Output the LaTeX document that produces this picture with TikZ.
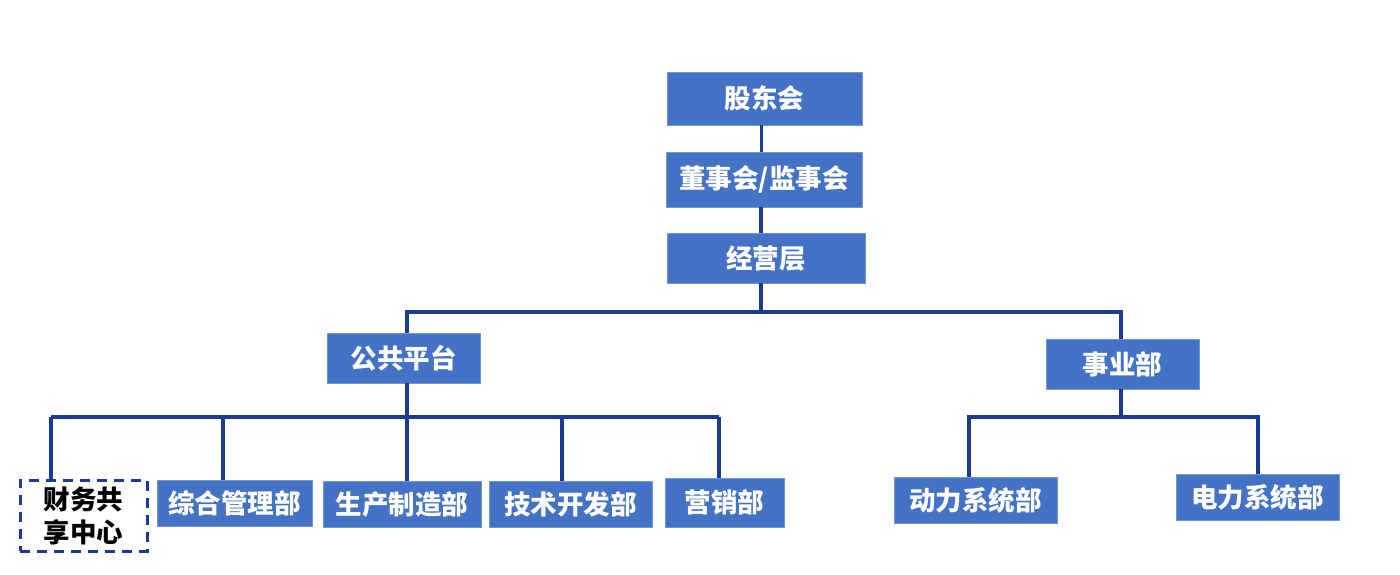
\documentclass[tikz,border=0pt]{standalone}
\usepackage{fontspec}
\newfontfamily\cjk{Noto Sans CJK SC}
\usepackage{tikz}
\usetikzlibrary{positioning}

\definecolor{boxblue}{HTML}{4472C4}
\definecolor{boxedge}{HTML}{7396D8}
\definecolor{linkblue}{HTML}{1B3A94}

\tikzset{
	unit/.style={rectangle, fill=boxblue, draw=boxedge, line width=0.8pt, text=white,
		font=\cjk\bfseries\fontsize{26.5}{30}\selectfont, inner sep=0pt},
	dashunit/.style={rectangle, draw=linkblue, dashed, dash pattern=on 10pt off 7pt, line width=3pt,
		text=black, align=center, font=\cjk\bfseries\fontsize{26.5}{33}\selectfont, inner sep=0pt},
	link/.style={draw=linkblue, line width=3.2pt}
}

\begin{document}
\begin{tikzpicture}[x=1pt, y=-1pt]
	\useasboundingbox (0,0) rectangle (1400,574);
	% top levels
	\node[unit, minimum width=195pt, minimum height=53pt] (gdh) at (764.5, 98.5) {股东会};
	\node[unit, minimum width=196pt, minimum height=55pt] (dsh) at (764, 179.5) {董事会/监事会};
	\node[unit, minimum width=198pt, minimum height=50pt] (jyc) at (766, 258) {经营层};
	\node[unit, minimum width=153pt, minimum height=50pt] (ggpt) at (403.5, 358) {公共平台};
	\node[unit, minimum width=153pt, minimum height=50pt] (syb) at (1122.5, 364) {事业部};
	% departments
	\node[dashunit, minimum width=127pt, minimum height=71pt] (cw) at (83.5, 515.5) {财务共\\享中心};
	\node[unit, minimum width=155pt, minimum height=46pt] (zh) at (234.5, 503) {综合管理部};
	\node[unit, minimum width=158pt, minimum height=46pt] (sc) at (402, 504) {生产制造部};
	\node[unit, minimum width=163pt, minimum height=46pt] (js) at (570.5, 504) {技术开发部};
	\node[unit, minimum width=119pt, minimum height=49pt] (yx) at (724.5, 502.5) {营销部};
	\node[unit, minimum width=163pt, minimum height=46pt] (dl) at (975.5, 500) {动力系统部};
	\node[unit, minimum width=163pt, minimum height=46pt] (dlx) at (1257.5, 497) {电力系统部};
	% bus levels
	\coordinate (topbus) at (0, 312);
	\coordinate (pubbus) at (0, 417);
	\coordinate (bizbus) at (0, 417);
	% links
	\draw[link] ([xshift=-3pt]gdh.south) -- ([xshift=-3pt]gdh.south |- dsh.north);
	\draw[link] ([xshift=-3pt]dsh.south) -- ([xshift=-3pt]dsh.south |- jyc.north);
	\draw[link] ([xshift=-5pt]jyc.south) -- ([xshift=-5pt]jyc.south |- topbus);
	\draw[link] ([xshift=3.5pt]ggpt.north) -- ([xshift=3.5pt]ggpt.north |- topbus)
		-- ([xshift=-1.5pt]syb.north |- topbus) -- ([xshift=-1.5pt]syb.north);
	\draw[link] ([xshift=3.5pt]ggpt.south) -- ([xshift=3.5pt]ggpt.south |- pubbus);
	\draw[link] ([xshift=-32.5pt]cw.north |- pubbus) -- ([xshift=-5.5pt]yx.north |- pubbus);
	\foreach \n/\dx in {cw/-32.5, zh/-11.5, sc/5, js/-8.5, yx/-5.5}
		\draw[link] ([xshift=\dx pt]\n.north) -- ([xshift=\dx pt]\n.north |- pubbus);
	\draw[link] ([xshift=-1.5pt]syb.south) -- ([xshift=-1.5pt]syb.south |- bizbus);
	\draw[link] ([xshift=-6.5pt]dl.north) -- ([xshift=-6.5pt]dl.north |- bizbus)
		-- ([xshift=0.5pt]dlx.north |- bizbus) -- ([xshift=0.5pt]dlx.north);
\end{tikzpicture}
\end{document}
